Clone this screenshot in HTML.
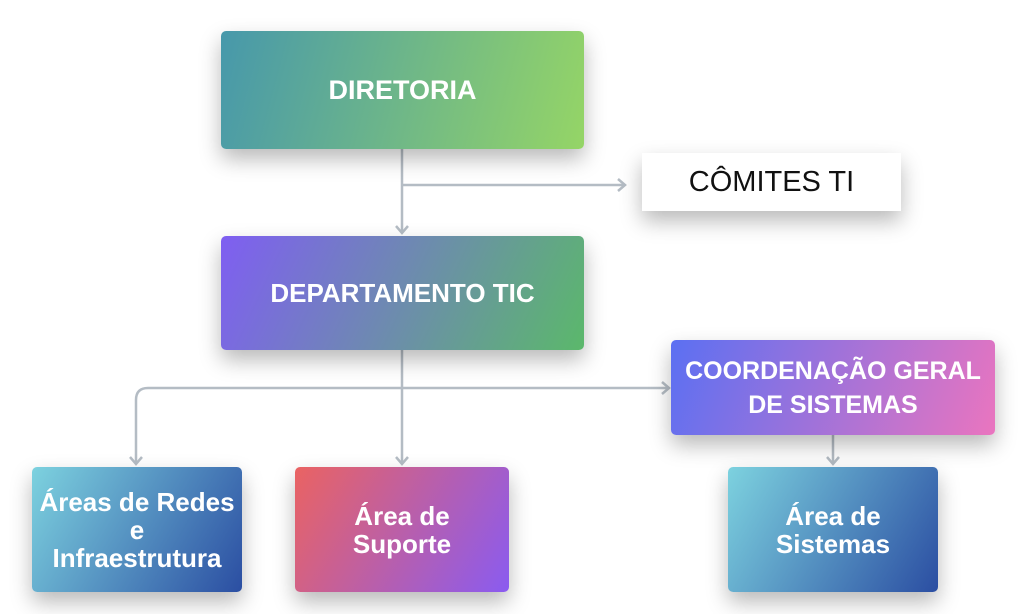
<!DOCTYPE html><html><head><meta charset="utf-8"><style>
body{margin:0;width:1024px;height:614px;background:#fff;position:relative;overflow:hidden;font-family:"Liberation Sans","DejaVu Sans",sans-serif}
.b{position:absolute;border-radius:5px;display:flex;align-items:center;justify-content:center;text-align:center;color:#fff;font-weight:bold;box-shadow:0 10px 22px rgba(0,0,0,.28)}
svg{position:absolute;left:0;top:0}
</style></head><body>
<svg width="1024" height="614"><g fill="none" stroke="#b4bcc4" stroke-width="2.5">
<path d="M402 149V232M402 185H624M402 350V463M668 388H148Q136 388 136 400V463M833 435V463"/>
<path d="M396 226L402 233L408 226M618 179L625 185L618 191M396 457L402 464L408 457M130 457L136 464L142 457M662 382L669 388L662 394M827 457L833 464L839 457"/>
</g></svg>
<div class="b" style="left:221px;top:31px;width:363px;height:118px;background:linear-gradient(105deg,#4798ab,#95d566);font-size:27px">DIRETORIA</div>
<div class="b" style="left:642px;top:153px;width:259px;height:58px;background:#fff;color:#111;font-weight:normal;font-size:29px;border-radius:0">CÔMITES TI</div>
<div class="b" style="left:221px;top:236px;width:363px;height:114px;background:linear-gradient(115deg,#7f5ef2,#5bb86b);font-size:26px">DEPARTAMENTO TIC</div>
<div class="b" style="left:671px;top:340px;width:324px;height:95px;background:linear-gradient(110deg,#5b70f2,#ea75bf);font-size:25px;line-height:34px">COORDENAÇÃO GERAL<br>DE SISTEMAS</div>
<div class="b" style="left:32px;top:467px;width:210px;height:125px;background:linear-gradient(120deg,#7dd2df,#2b4ea2);font-size:26px;line-height:28px">Áreas de Redes<br>e<br>Infraestrutura</div>
<div class="b" style="left:295px;top:467px;width:214px;height:125px;background:linear-gradient(120deg,#ea6362,#8a5bf0);font-size:26px;line-height:28px">Área de<br>Suporte</div>
<div class="b" style="left:728px;top:467px;width:210px;height:125px;background:linear-gradient(120deg,#7dd2df,#2b4ea2);font-size:26px;line-height:28px">Área de<br>Sistemas</div>
</body></html>
